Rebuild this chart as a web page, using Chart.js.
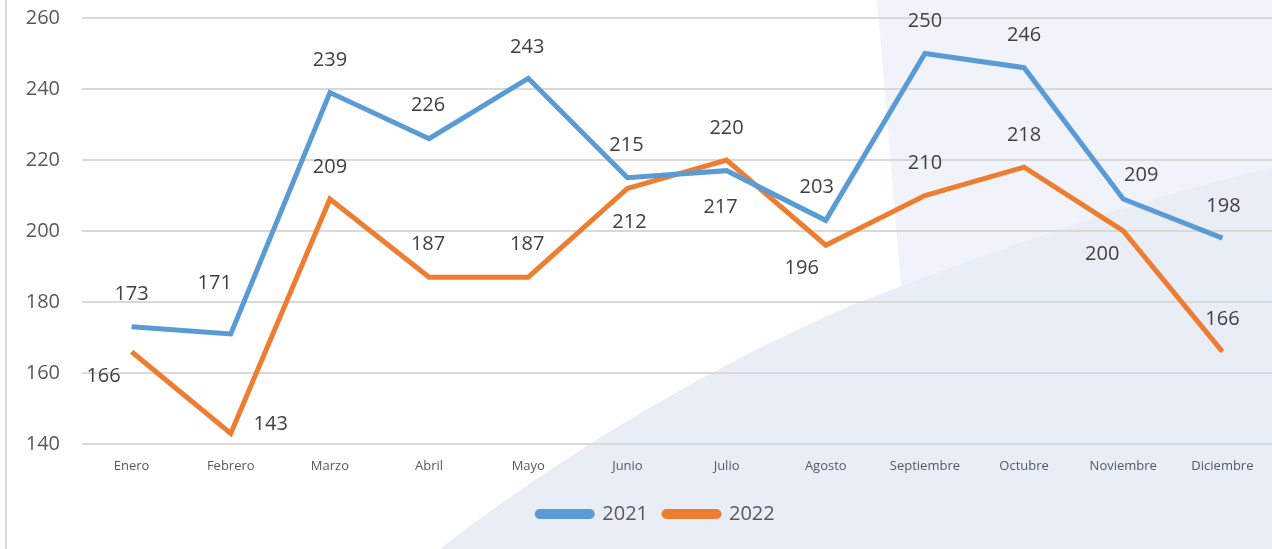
<!DOCTYPE html>
<html lang="es">

<head>
    <meta charset="UTF-8">
    <title>2021 vs 2022</title>
    <script src="https://cdn.jsdelivr.net/npm/chart.js"></script>
    <style>
        html, body {
            margin: 0;
            padding: 0;
            background: #ffffff;
        }

        .wrap {
            position: relative;
            width: 1272px;
            height: 549px;
        }
    </style>
</head>

<body>
    <div class="wrap">
        <canvas id="lineChart" width="1272" height="549"></canvas>
    </div>

    <script>
        // Chart data
        const months = ['Enero', 'Febrero', 'Marzo', 'Abril', 'Mayo', 'Junio',
            'Julio', 'Agosto', 'Septiembre', 'Octubre', 'Noviembre', 'Diciembre'];
        const values2021 = [173, 171, 239, 226, 243, 215, 217, 203, 250, 246, 209, 198];
        const values2022 = [166, 143, 209, 187, 187, 212, 220, 196, 210, 218, 200, 166];
        const yTicks = [140, 160, 180, 200, 220, 240, 260];

        // Where each value label sits relative to its point (px)
        const labelShift2021 = [[0, -33], [-16, -51], [0, -32], [-1, -33], [-1, -31], [-1, -32],
            [-6, 37], [-9, -33], [0, -32], [0, -32], [18, -24], [1, -32]];
        const labelShift2022 = [[-28, 25], [40, -9], [0, -32], [-1, -33], [-1, -33], [2, 34],
            [0, -32], [-24, 23], [0, -32], [0, -32], [-21, 23], [0, -32]];

        const FONT = '"Open Sans", "Noto Sans", sans-serif';

        // Soft blue backdrop shapes, drawn before everything else
        const backdrop = {
            id: 'backdrop',
            beforeDraw(chart) {
                const ctx = chart.ctx;
                const w = chart.width, h = chart.height;
                ctx.save();
                ctx.fillStyle = '#ffffff';
                ctx.fillRect(0, 0, w, h);

                // upper light panel
                ctx.fillStyle = '#f0f4fa';
                ctx.beginPath();
                ctx.moveTo(877, 0);
                ctx.quadraticCurveTo(890, 150, 902, 300);
                ctx.lineTo(w, 170);
                ctx.lineTo(w, 0);
                ctx.closePath();
                ctx.fill();

                // lower sweep
                ctx.fillStyle = '#e9eef6';
                ctx.beginPath();
                ctx.moveTo(440, h);
                ctx.bezierCurveTo(560, 455, 720, 360, 860, 302);
                ctx.bezierCurveTo(1000, 248, 1150, 195, w, 168);
                ctx.lineTo(w, h);
                ctx.closePath();
                ctx.fill();

                // left frame edge
                ctx.strokeStyle = '#d9d9d9';
                ctx.lineWidth = 2;
                ctx.beginPath();
                ctx.moveTo(6, 0);
                ctx.lineTo(6, h);
                ctx.stroke();
                ctx.restore();
            }
        };

        // Value labels next to each point
        const valueLabels = {
            id: 'valueLabels',
            afterDatasetsDraw(chart) {
                const ctx = chart.ctx;
                const shifts = [labelShift2021, labelShift2022];
                ctx.save();
                ctx.font = '20px ' + FONT;
                ctx.fillStyle = '#404040';
                ctx.textAlign = 'center';
                ctx.textBaseline = 'middle';
                chart.data.datasets.forEach((ds, di) => {
                    const meta = chart.getDatasetMeta(di);
                    meta.data.forEach((pt, i) => {
                        const s = shifts[di][i];
                        ctx.fillText(String(ds.data[i]), pt.x + s[0], pt.y + s[1]);
                    });
                });
                ctx.restore();
            }
        };

        // The legend sits a little right of the canvas centre in the original
        const nudgeLegend = {
            id: 'nudgeLegend',
            afterLayout(chart) {
                if (chart.legend) {
                    chart.legend.left += 20;
                    chart.legend.right += 20;
                }
            }
        };

        const ctx = document.getElementById('lineChart').getContext('2d');
        const chart = new Chart(ctx, {
            type: 'line',
            data: {
                labels: months,
                datasets: [{
                    label: '2021',
                    data: values2021,
                    borderColor: '#5b9bd5',
                    backgroundColor: '#5b9bd5',
                    borderWidth: 5,
                    pointRadius: 0,
                    tension: 0
                }, {
                    label: '2022',
                    data: values2022,
                    borderColor: '#ed7d31',
                    backgroundColor: '#ed7d31',
                    borderWidth: 5,
                    pointRadius: 0,
                    tension: 0
                }]
            },
            options: {
                responsive: false,
                animation: false,
                layout: {
                    padding: { top: 18, right: 0, bottom: 15, left: 0 }
                },
                scales: {
                    x: {
                        offset: true,
                        grid: { display: false },
                        border: { display: false },
                        ticks: {
                            color: '#595959',
                            font: { family: FONT, size: 13 },
                            padding: 6,
                            maxRotation: 0,
                            autoSkip: false
                        },
                        afterFit(scale) {
                            scale.height = 44;
                            scale.paddingLeft = 0;
                            scale.paddingRight = 0;
                        }
                    },
                    y: {
                        min: 140,
                        max: 260,
                        afterBuildTicks(scale) {
                            scale.ticks = yTicks.map(v => ({ value: v }));
                        },
                        grid: {
                            color: '#d9d9d9',
                            lineWidth: 2,
                            drawTicks: false
                        },
                        border: { display: false },
                        ticks: {
                            color: '#595959',
                            font: { family: FONT, size: 20 },
                            padding: 22
                        },
                        afterFit(scale) {
                            scale.width = 82;
                            scale.paddingTop = 0;
                            scale.paddingBottom = 0;
                        }
                    }
                },
                plugins: {
                    legend: {
                        position: 'bottom',
                        labels: {
                            boxWidth: 55,
                            boxHeight: 5,
                            useBorderRadius: true,
                            borderRadius: 2.5,
                            padding: 16,
                            color: '#595959',
                            font: { family: FONT, size: 20 }
                        }
                    },
                    tooltip: { enabled: false }
                }
            },
            plugins: [backdrop, valueLabels, nudgeLegend]
        });
    </script>
</body>

</html>
